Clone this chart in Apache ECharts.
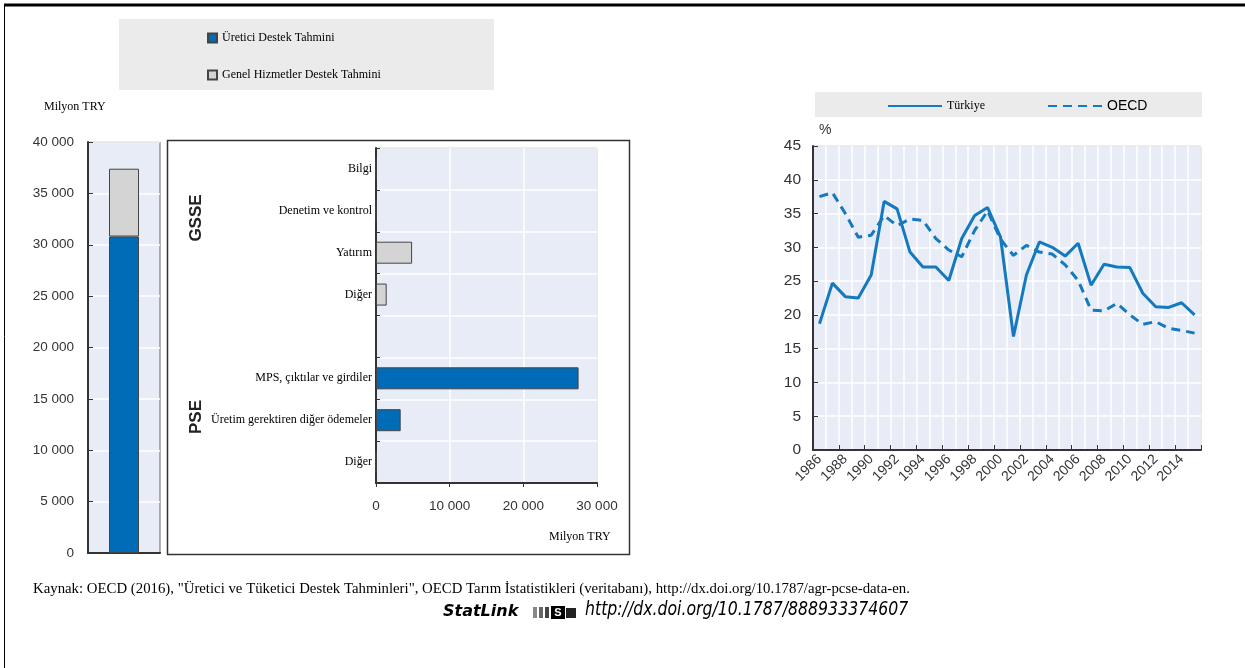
<!DOCTYPE html>
<html>
<head>
<meta charset="utf-8">
<script src="https://cdn.jsdelivr.net/npm/echarts@6/dist/echarts.min.js"></script>
<style>
  html, body { margin: 0; padding: 0; background: #fff; }
  #chart { width: 1245px; height: 668px; }
</style>
</head>
<body>
<div id="chart"></div>
<script>
// Toplam destek (Milyon TRY)
const pseTotal = [30800];
const gsseTotal = [6600];

// Bileşenler (Milyon TRY)
const compCategories = ['Bilgi', 'Denetim ve kontrol', 'Yatırım', 'Diğer', '', 'MPS, çıktılar ve girdiler', 'Üretim gerektiren diğer ödemeler', 'Diğer'];
const gsseValues = [0, 0, 4900, 1450, null, null, null, null];
const pseValues = [null, null, null, null, null, 27500, 3350, 0];

// %PSE
const years = ['1986', '1987', '1988', '1989', '1990', '1991', '1992', '1993', '1994', '1995',
  '1996', '1997', '1998', '1999', '2000', '2001', '2002', '2003', '2004', '2005',
  '2006', '2007', '2008', '2009', '2010', '2011', '2012', '2013', '2014', '2015'];
const turkiye = [18.7, 24.7, 22.7, 22.5, 25.9, 36.8, 35.7, 29.3, 27.1, 27.1,
  25.1, 31.3, 34.7, 35.9, 31.5, 16.8, 25.9, 30.8, 30.0, 28.7,
  30.6, 24.4, 27.5, 27.1, 27.0, 23.2, 21.2, 21.1, 21.8, 20.0];
const oecd = [37.5, 38.1, 35.0, 31.5, 31.8, 34.7, 33.2, 34.2, 34.0, 31.3,
  29.6, 28.6, 32.5, 35.4, 31.2, 28.8, 30.3, 29.3, 29.0, 27.4,
  25.1, 20.7, 20.6, 21.7, 20.0, 18.6, 19.0, 18.0, 17.7, 17.3];

const BLUE = '#006BB6';
const LINE_BLUE = '#1479BE';
const GREY = '#D4D4D4';
const PLOT_BG = '#E8ECF6';
const SANS = '"Liberation Sans", Arial, sans-serif';
const COND = '"DejaVu Sans Condensed", "Liberation Sans", sans-serif';
const SERIF = '"Liberation Serif", "Times New Roman", serif';

// binlik ayırıcı boşluk
function fmt(v) {
  return String(v).replace(/\B(?=(\d{3})+(?!\d))/g, ' ');
}

const myChart = echarts.init(document.getElementById('chart'));

const option = {
  animation: false,
  legend: [
    {
      data: ['Üretici Destek Tahmini', 'Genel Hizmetler Destek Tahmini'],
      orient: 'vertical',
      left: 202,
      top: 27,
      icon: 'rect',
      itemWidth: 9,
      itemHeight: 9,
      itemGap: 25,
      selectedMode: false,
      textStyle: { fontFamily: SERIF, fontSize: 12, color: '#000' }
    },
    {
      data: ['Türkiye', 'OECD'],
      left: 882,
      top: 94,
      itemWidth: 54,
      itemHeight: 14,
      itemGap: 62,
      selectedMode: false,
      itemStyle: { opacity: 0 },
      formatter: function (name) {
        return name === 'OECD' ? '{s|OECD}' : '{t|Türkiye}';
      },
      textStyle: {
        rich: {
          t: { fontFamily: SERIF, fontSize: 12, color: '#000' },
          s: { fontFamily: SANS, fontSize: 14, color: '#000' }
        }
      }
    }
  ],
  grid: [
    { left: 88, top: 142, width: 72, height: 411, show: true, backgroundColor: PLOT_BG, borderColor: '#666', borderWidth: 1 },
    { left: 376, top: 148, width: 221, height: 335, show: true, backgroundColor: PLOT_BG, borderColor: '#666', borderWidth: 1 },
    { left: 813, top: 146, width: 388, height: 304, show: true, backgroundColor: PLOT_BG, borderColor: '#666', borderWidth: 1 }
  ],
  xAxis: [
    {
      gridIndex: 0, type: 'category', data: ['Toplam'],
      axisLine: { lineStyle: { color: '#333', width: 2 } },
      axisTick: { show: false }, axisLabel: { show: false }
    },
    {
      gridIndex: 1, type: 'value', min: 0, max: 30000, interval: 10000,
      axisLine: { show: true, lineStyle: { color: '#333', width: 2 } },
      axisTick: { show: true, length: 4, lineStyle: { color: '#333' } },
      axisLabel: { margin: 16, fontFamily: SANS, fontSize: 13.5, color: '#333', formatter: fmt },
      splitLine: { lineStyle: { color: '#fff', width: 1.5 } }
    },
    {
      gridIndex: 2, type: 'category', data: years, boundaryGap: true,
      axisLine: { lineStyle: { color: '#333', width: 2 } },
      axisTick: { show: true, inside: true, length: 5, lineStyle: { color: '#333' } },
      axisLabel: { interval: 1, rotate: 45, margin: 7, fontFamily: SANS, fontSize: 14, color: '#333' },
      splitLine: { show: true, interval: 0, lineStyle: { color: '#fff', width: 1.5 } }
    }
  ],
  yAxis: [
    {
      gridIndex: 0, type: 'value', min: 0, max: 40000, interval: 5000,
      axisLine: { show: true, lineStyle: { color: '#333', width: 2 } },
      axisTick: { show: true, inside: true, length: 5, lineStyle: { color: '#333' } },
      axisLabel: { margin: 14, fontFamily: SANS, fontSize: 13.5, color: '#333', formatter: fmt },
      splitLine: { lineStyle: { color: '#fff', width: 1.5 } }
    },
    {
      gridIndex: 1, type: 'category', data: compCategories, inverse: true,
      axisLine: { lineStyle: { color: '#333', width: 2 } },
      axisTick: { show: true, inside: true, length: 4, lineStyle: { color: '#333' } },
      axisLabel: { margin: 4, fontFamily: SERIF, fontSize: 12, color: '#000' },
      splitLine: { show: true, lineStyle: { color: '#fff', width: 1.5 } }
    },
    {
      gridIndex: 2, type: 'value', min: 0, max: 45, interval: 5,
      axisLine: { show: true, lineStyle: { color: '#333', width: 2 } },
      axisTick: { show: true, inside: true, length: 5, lineStyle: { color: '#333' } },
      axisLabel: { margin: 12, fontFamily: SANS, fontSize: 15.5, color: '#333' },
      splitLine: { lineStyle: { color: '#fff', width: 1.5 } }
    }
  ],
  series: [
    {
      name: 'Üretici Destek Tahmini', type: 'bar', stack: 'toplam',
      xAxisIndex: 0, yAxisIndex: 0, barWidth: 30, data: pseTotal,
      itemStyle: { color: BLUE, borderColor: '#444', borderWidth: 1 }
    },
    {
      name: 'Genel Hizmetler Destek Tahmini', type: 'bar', stack: 'toplam',
      xAxisIndex: 0, yAxisIndex: 0, barWidth: 30, data: gsseTotal,
      itemStyle: { color: GREY, borderColor: '#444', borderWidth: 1 }
    },
    {
      name: 'Genel Hizmetler Destek Tahmini', type: 'bar', stack: 'bilesen',
      xAxisIndex: 1, yAxisIndex: 1, barWidth: 22, data: gsseValues,
      itemStyle: { color: GREY, borderColor: '#444', borderWidth: 1 }
    },
    {
      name: 'Üretici Destek Tahmini', type: 'bar', stack: 'bilesen',
      xAxisIndex: 1, yAxisIndex: 1, barWidth: 22, data: pseValues,
      itemStyle: { color: BLUE, borderColor: '#444', borderWidth: 1 }
    },
    {
      name: 'Türkiye', type: 'line', xAxisIndex: 2, yAxisIndex: 2,
      data: turkiye, symbol: 'none',
      lineStyle: { color: LINE_BLUE, width: 3 }, itemStyle: { color: LINE_BLUE }
    },
    {
      name: 'OECD', type: 'line', xAxisIndex: 2, yAxisIndex: 2,
      data: oecd, symbol: 'none',
      lineStyle: { color: LINE_BLUE, width: 3, type: [9, 6] }, itemStyle: { color: LINE_BLUE }
    }
  ],
  graphic: [
    // sayfa çerçevesi
    { type: 'line', shape: { x1: 4, y1: 5, x2: 1245, y2: 5 }, style: { stroke: '#000', lineWidth: 3 } },
    { type: 'line', shape: { x1: 4.5, y1: 5, x2: 4.5, y2: 668 }, style: { stroke: '#000', lineWidth: 1 } },
    // lejant arka planları
    { type: 'rect', z: -10, shape: { x: 119, y: 19, width: 375, height: 71 }, style: { fill: '#EBEBEB' } },
    { type: 'rect', z: -10, shape: { x: 815, y: 92, width: 387, height: 25 }, style: { fill: '#EBEBEB' } },
    // orta panel çerçevesi
    { type: 'rect', z: -5, shape: { x: 167.5, y: 140.5, width: 462, height: 414 }, style: { fill: 'none', stroke: '#333', lineWidth: 1.5 } },
    // eksen adları
    { type: 'text', left: 44, top: 101, style: { text: 'Milyon TRY', font: '12px ' + SERIF, fill: '#000' } },
    { type: 'text', left: 549, top: 531, style: { text: 'Milyon TRY', font: '12px ' + SERIF, fill: '#000' } },
    { type: 'text', left: 819, top: 123, style: { text: '%', font: '14px ' + SANS, fill: '#333' } },
    // grup etiketleri
    { type: 'text', x: 196, y: 218, rotation: Math.PI / 2, style: { text: 'GSSE', font: 'bold 17px ' + SANS, fill: '#222', align: 'center', verticalAlign: 'middle' } },
    { type: 'text', x: 196, y: 417, rotation: Math.PI / 2, style: { text: 'PSE', font: 'bold 17px ' + SANS, fill: '#222', align: 'center', verticalAlign: 'middle' } },
    // kaynak
    { type: 'text', left: 33, top: 582, style: { text: 'Kaynak: OECD (2016), "Üretici ve Tüketici Destek Tahminleri", OECD Tarım İstatistikleri (veritabanı), http://dx.doi.org/10.1787/agr-pcse-data-en.', font: '14.8px ' + SERIF, fill: '#000' } },
    { type: 'text', left: 443, top: 604, style: { text: 'StatLink', font: 'italic bold 16px "DejaVu Sans", sans-serif', fill: '#000' } },
    { type: 'rect', shape: { x: 533, y: 607, width: 4, height: 11 }, style: { fill: '#888' } },
    { type: 'rect', shape: { x: 539, y: 607, width: 4, height: 11 }, style: { fill: '#666' } },
    { type: 'rect', shape: { x: 545, y: 607, width: 4, height: 11 }, style: { fill: '#444' } },
    { type: 'rect', shape: { x: 551, y: 606, width: 14, height: 13 }, style: { fill: '#000' } },
    { type: 'text', x: 558, y: 613, style: { text: 'S', font: 'bold 11px ' + SANS, fill: '#fff', align: 'center', verticalAlign: 'middle' } },
    { type: 'polygon', shape: { points: [[566, 608], [576, 608], [576, 618], [566, 618]] }, style: { fill: '#222' } },
    { type: 'text', x: 585, y: 601, scaleX: 0.92, style: { text: 'http://dx.doi.org/10.1787/888933374607', font: 'italic 19px ' + COND, fill: '#000', verticalAlign: 'top' } }
  ]
};

myChart.setOption(option);
</script>
</body>
</html>
